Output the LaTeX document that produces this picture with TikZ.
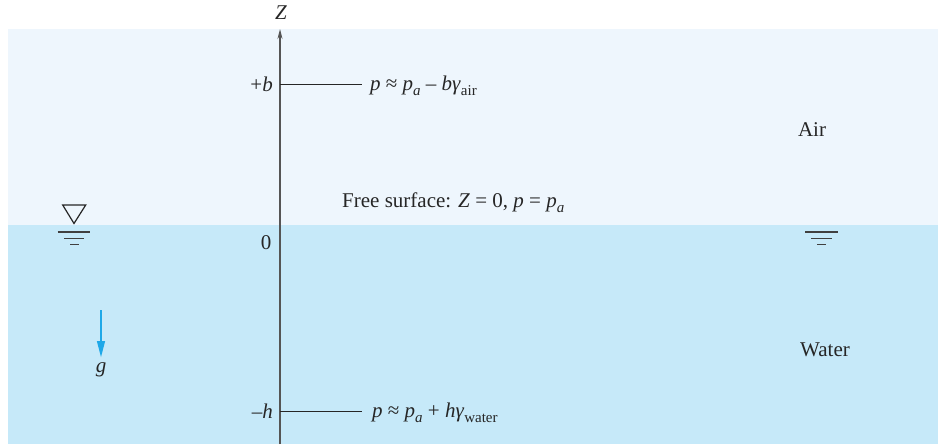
\documentclass[tikz,border=0pt]{standalone}
\usepackage{fontspec}
\setmainfont{Liberation Serif}
\usetikzlibrary{arrows.meta}
\definecolor{airc}{HTML}{EEF6FD}
\definecolor{waterc}{HTML}{C6E9F9}
\definecolor{gc}{HTML}{1EA8E8}
\definecolor{axc}{HTML}{555555}
\newcommand{\mi}[1]{\textit{#1}}
\newcommand{\sbx}[1]{\raisebox{-0.55ex}{\fontsize{15}{16}\selectfont #1}}
\begin{document}
\begin{tikzpicture}[x=1pt,y=-1pt,
  every node/.style={font=\fontsize{21}{24}\selectfont, inner sep=0pt, text=black!85},
  tick/.style={draw=black!85, line width=1pt},
  surf/.style={draw=black!75, line width=1.3pt}]
\useasboundingbox (0,0) rectangle (944,444);
\fill[airc] (8,29) rectangle (938,225);
\fill[waterc] (8,225) rectangle (938,444);
% axis
\coordinate (axbot) at (280,444);
\coordinate (axtop) at (280,29);
\draw[axc, line width=1.3pt, -{Stealth[length=10pt,width=5pt]}] (axbot) -- (axtop);
\node (Z) at (281,13) {\mi{Z}};
% +b
\coordinate (bpt) at (280,84);
\node[anchor=east] (blab) at (273,84) {+\mi{b}};
\node[anchor=west] (btxt) at (370,86) {\mi{p} ≈ \mi{p}\sbx{\mi{a}} – \mi{b}\mi{γ}\sbx{air}};
\draw[tick] (bpt) -- (362,84);
% free surface
\node[anchor=base west] (fs) at (342,207) {Free surface: \mi{Z} = 0, \mi{p} = \mi{p}\sbx{\mi{a}}};
\node (zero) at (266,243) {0};
% -h
\coordinate (hpt) at (280,411);
\node[anchor=east] (hlab) at (273,411) {–\mi{h}};
\node[anchor=west] (htxt) at (372,413) {\mi{p} ≈ \mi{p}\sbx{\mi{a}} + \mi{h}\mi{γ}\sbx{water}};
\draw[tick] (hpt) -- (362,411);
% labels
\node (air) at (812,130) {Air};
\node (water) at (825,350) {Water};
% gravity
\coordinate (gtop) at (101,310);
\node (g) at (101,370) {\mi{g}};
\draw[gc, line width=2.7pt, -{Triangle[length=17pt,width=7.5pt]}] (gtop) -- (101,358);
% free surface symbol left
\draw[black!85, line width=1.2pt, line join=miter] (62.7,205) -- (85.7,205) -- (74,223.5) -- cycle;
\draw[surf] (57.7,232) -- (90,232);
\draw[surf] (64,238.7) -- (84,238.7);
\draw[surf] (70,244.7) -- (78.5,244.7);
% right
\draw[surf] (805,232) -- (837.7,232);
\draw[surf] (811,238.7) -- (832,238.7);
\draw[surf] (817,244.7) -- (825.7,244.7);
\end{tikzpicture}
\end{document}
